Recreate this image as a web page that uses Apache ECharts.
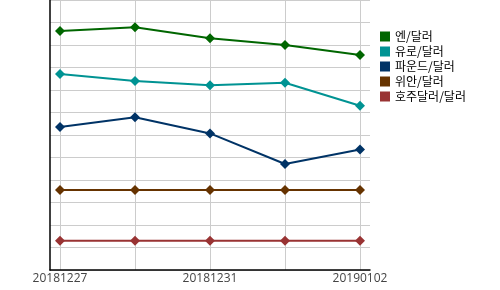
<!DOCTYPE html>
<html>
<head>
<meta charset="utf-8">
<script src="https://cdn.jsdelivr.net/npm/echarts@6/dist/echarts.min.js"></script>
<style>html,body{margin:0;padding:0;background:#fff}#c{width:500px;height:290px}</style>
</head>
<body>
<div id="c"></div>
<script>
var categories = ['20181227', '20181228', '20181231', '20190101', '20190102'];
var seriesNames = ['엔/달러', '유로/달러', '파운드/달러', '위안/달러', '호주달러/달러'];
var yen = [10.62, 10.79, 10.30, 10.00, 9.56];
var euro = [8.71, 8.40, 8.21, 8.32, 7.30];
var pound = [6.36, 6.79, 6.07, 4.71, 5.36];
var yuan = [3.56, 3.56, 3.56, 3.56, 3.56];
var aud = [1.30, 1.30, 1.30, 1.30, 1.30];
var labelIdx = [0, 2, 4];
var colors = ['#006600', '#009393', '#003366', '#663300', '#993333'];

var allData = [yen, euro, pound, yuan, aud];
var chart = echarts.init(document.getElementById('c'));
var font = '"Open Sans", "Noto Sans CJK KR", sans-serif';
chart.setOption({
  animation: false,
  textStyle: { fontFamily: font },
  grid: { left: 50, right: 130, top: 0, bottom: 20 },
  legend: {
    orient: 'vertical', left: 380, top: 30.5, padding: 0,
    itemWidth: 10, itemHeight: 10, itemGap: 3,
    icon: 'rect',
    textStyle: { fontSize: 12, color: '#000', fontFamily: '"Noto Sans CJK KR", sans-serif' },
    data: seriesNames
  },
  xAxis: {
    type: 'value',
    min: -10 / 75, max: 4 + 10 / 75,
    axisLine: { show: true, onZero: false, lineStyle: { color: '#000', width: 1.5 } },
    axisTick: { show: false, customValues: [0, 1, 2, 3, 4] },
    axisLabel: { customValues: labelIdx, color: '#444', fontSize: 12, margin: 3,
      formatter: function (v) { return categories[Math.round(v)]; } },
    splitLine: { show: true, lineStyle: { color: '#cccccc', width: 1 } }
  },
  yAxis: {
    type: 'value', min: 0, max: 12, interval: 1,
    axisLine: { show: true, onZero: false, lineStyle: { color: '#000', width: 1.5 } },
    axisTick: { show: false },
    axisLabel: { show: false },
    splitLine: { show: true, lineStyle: { color: '#cccccc', width: 1 } }
  },
  series: allData.map(function (d, i) {
    return {
      name: seriesNames[i], type: 'line',
      data: d.map(function (v, j) { return [j, v]; }),
      symbol: 'diamond', symbolSize: 10,
      itemStyle: { color: colors[i] },
      lineStyle: { color: colors[i], width: 2 }
    };
  })
});
</script>
</body>
</html>
